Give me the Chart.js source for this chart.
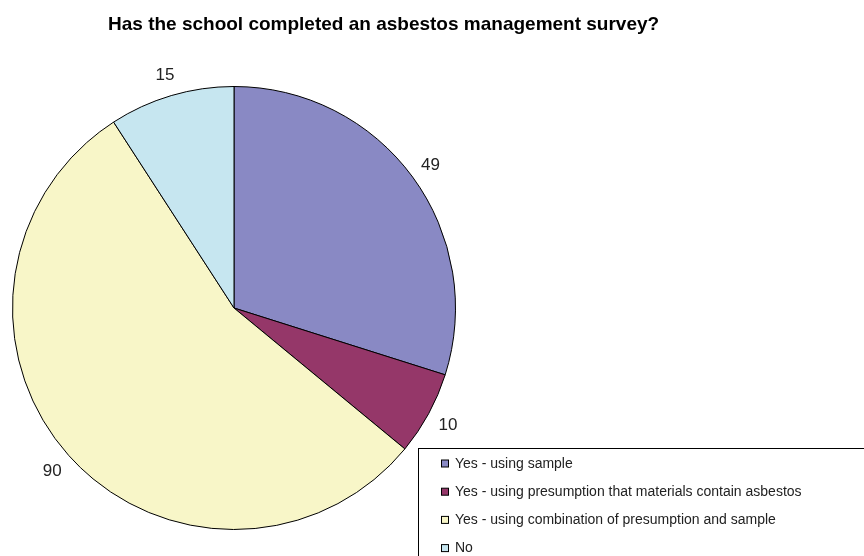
<!DOCTYPE html>
<html><head><meta charset="utf-8">
<script src="https://cdn.jsdelivr.net/npm/chart.js@4/dist/chart.umd.min.js"></script>
<style>html,body{margin:0;padding:0;background:#fff}#wrap{width:864px;height:556px;position:relative}</style>
</head><body><div id="wrap"><canvas id="c" width="864" height="556"></canvas></div>
<script>
const categories = ["Yes - using sample", "Yes - using presumption that materials contain asbestos", "Yes - using combination of presumption and sample", "No"];
const values = [49, 10, 90, 15];
const colors = ["#8989C4", "#953769", "#F8F6C8", "#C6E6F0"];
const titleText = "Has the school completed an asbestos management survey?";
const FONT = "'Liberation Sans', Arial, sans-serif";

const customDraw = {
  id: 'customDraw',
  afterDraw(chart) {
    const ctx = chart.ctx;
    ctx.save();
    // title
    ctx.fillStyle = '#000';
    ctx.font = 'bold 19px ' + FONT;
    ctx.textAlign = 'left';
    ctx.textBaseline = 'alphabetic';
    ctx.fillText(titleText, 108, 30);
    // data labels
    const meta = chart.getDatasetMeta(0);
    ctx.font = '17px ' + FONT;
    ctx.fillStyle = '#222';
    ctx.textAlign = 'center';
    ctx.textBaseline = 'middle';
    meta.data.forEach((arc, i) => {
      const p = arc.getProps(['x','y','startAngle','endAngle','outerRadius'], true);
      const mid = (p.startAngle + p.endAngle) / 2;
      const r = p.outerRadius + 22;
      ctx.fillText(String(values[i]), p.x + Math.cos(mid) * r, p.y + Math.sin(mid) * r + 1);
    });
    // legend box
    ctx.strokeStyle = '#000';
    ctx.lineWidth = 1;
    ctx.fillStyle = '#fff';
    ctx.fillRect(418.5, 448.5, 460, 120);
    ctx.strokeRect(418.5, 448.5, 460, 120);
    ctx.font = '14px ' + FONT;
    ctx.textAlign = 'left';
    categories.forEach((c, i) => {
      const y = 463.5 + i * 28.2;
      ctx.fillStyle = colors[i];
      ctx.fillRect(441.5, y - 3.5, 7, 7);
      ctx.strokeStyle = '#000';
      ctx.strokeRect(441.5, y - 3.5, 7, 7);
      ctx.fillStyle = '#222';
      ctx.fillText(c, 455, y + 0.5);
    });
    ctx.restore();
  }
};

new Chart(document.getElementById('c'), {
  type: 'pie',
  data: {
    labels: categories,
    datasets: [{ data: values, backgroundColor: colors, borderColor: '#000', borderWidth: 1 }]
  },
  options: {
    responsive: false,
    animation: false,
    layout: { padding: { left: 12, right: 408, top: 86, bottom: 26 } },
    plugins: { legend: { display: false }, title: { display: false }, tooltip: { enabled: false } }
  },
  plugins: [customDraw]
});
</script></body></html>
